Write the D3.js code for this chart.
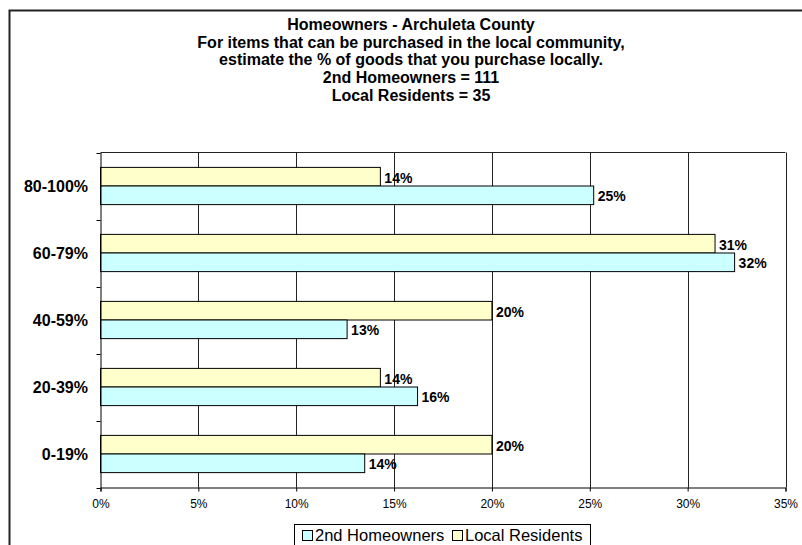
<!DOCTYPE html>
<html>
<head>
<meta charset="utf-8">
<script src="https://cdn.jsdelivr.net/npm/d3@7"></script>
<style>
  html, body { margin: 0; padding: 0; background: #fff; }
  svg { display: block; font-family: "Liberation Sans", Arial, sans-serif; }
</style>
</head>
<body>
<svg id="chart" width="802" height="545"></svg>
<script>
const titleLines = [
  "Homeowners - Archuleta County",
  "For items that can be purchased in the local community,",
  "estimate the % of goods that you purchase locally.",
  "2nd Homeowners = 111",
  "Local Residents = 35"
];
const categories = ["80-100%", "60-79%", "40-59%", "20-39%", "0-19%"];
const seriesNames = ["Local Residents", "2nd Homeowners"];
const localResidents = [14.3, 31.4, 20.0, 14.3, 20.0];
const secondHomeowners = [25.2, 32.4, 12.6, 16.2, 13.5];
const xTicks = [0, 5, 10, 15, 20, 25, 30, 35];
const legendLabels = ["2nd Homeowners", "Local Residents"];
const colors = { "Local Residents": "#FFFFCC", "2nd Homeowners": "#CCFFFF" };

(function () {
const svg = d3.select("#chart");

// outer chart border
svg.append("rect")
  .attr("x", 9.5).attr("y", 10.5)
  .attr("width", 820).attr("height", 560)
  .attr("fill", "none").attr("stroke", "#222").attr("stroke-width", 2);

// title
const title = svg.append("text")
  .attr("text-anchor", "middle")
  .attr("font-weight", "bold")
  .attr("font-size", "16px")
  .attr("fill", "#000");
titleLines.forEach((t, i) => {
  title.append("tspan").attr("x", 411).attr("y", 30 + i * 17.7).text(t);
});

const pL = 100.5, pR = 785.5, pT = 152.5, pB = 487.5;

const x = d3.scaleLinear().domain([0, 35]).range([pL, pR]);
const y = d3.scaleBand().domain(categories).range([pT, pB]);
const inner = d3.scaleBand().domain(seriesNames)
  .range([0, y.bandwidth()]).paddingOuter(0.8).paddingInner(0);

// gridlines
svg.append("g").selectAll("line").data(xTicks.slice(1)).join("line")
  .attr("x1", d => Math.round(x(d)) + 0.5).attr("x2", d => Math.round(x(d)) + 0.5)
  .attr("y1", pT).attr("y2", pB)
  .attr("stroke", "#222").attr("stroke-width", 1);

// plot top border
svg.append("line")
  .attr("x1", pL).attr("x2", pR).attr("y1", pT).attr("y2", pT)
  .attr("stroke", "#222");

// bars
const rows = categories.map((c, i) => ({
  cat: c,
  vals: [
    { s: "Local Residents", v: localResidents[i] },
    { s: "2nd Homeowners", v: secondHomeowners[i] }
  ]
}));

const g = svg.append("g");
rows.forEach(r => {
  r.vals.forEach(d => {
    const by = y(r.cat) + inner(d.s);
    g.append("rect")
      .attr("x", x(0)).attr("y", by)
      .attr("width", x(d.v) - x(0)).attr("height", inner.bandwidth())
      .attr("fill", colors[d.s]).attr("stroke", "#000").attr("stroke-width", 1);
    g.append("text")
      .attr("x", x(d.v) + 4).attr("y", by + inner.bandwidth() / 2 + 6)
      .attr("font-size", "14px").attr("font-weight", "bold")
      .text(Math.round(d.v) + "%");
  });
});

// x axis
const xAxis = d3.axisBottom(x).tickValues(xTicks).tickFormat(d => d + "%").tickSize(4).tickPadding(8);
const gx = svg.append("g").attr("transform", `translate(0,${pB})`).call(xAxis);
gx.select(".domain").attr("stroke", "#000");
gx.selectAll(".tick line").attr("stroke", "#000");
gx.selectAll("text").attr("font-size", "12px").attr("font-family", "Liberation Sans, Arial, sans-serif").attr("fill", "#000");

// y axis
const yAxis = d3.axisLeft(y).tickValues([]).tickSizeOuter(0);
const gy = svg.append("g").attr("transform", `translate(${pL},0)`).call(yAxis);
gy.select(".domain").attr("stroke", "#000");
const bounds = categories.map(c => y(c)).concat([pB]);
svg.append("g").selectAll("line").data(bounds).join("line")
  .attr("x1", pL - 4).attr("x2", pL).attr("y1", d => Math.round(d) + 0.5).attr("y2", d => Math.round(d) + 0.5)
  .attr("stroke", "#000");
svg.append("g").selectAll("text").data(categories).join("text")
  .attr("x", 88).attr("y", d => y(d) + y.bandwidth() / 2 + 6)
  .attr("text-anchor", "end").attr("font-size", "16px").attr("font-weight", "bold")
  .text(d => d);

// legend
const boxX = 294.5, boxW = 296;
const lg = svg.append("g");
lg.append("rect").attr("x", boxX).attr("y", 524.5).attr("width", boxW).attr("height", 30)
  .attr("fill", "#fff").attr("stroke", "#000");
const items = legendLabels.map((name) => {
  const it = lg.append("g");
  it.append("rect").attr("x", 0.5).attr("y", 530.5).attr("width", 10).attr("height", 10)
    .attr("fill", colors[name]).attr("stroke", "#000");
  const t = it.append("text").attr("x", 13).attr("y", 541)
    .attr("font-size", "16.5px").text(name);
  return { it, w: 13 + t.node().getComputedTextLength() };
});
const used = d3.sum(items, d => d.w);
const gap = (boxW - used) / 3;
let cx = boxX + gap;
items.forEach(d => {
  d.it.attr("transform", `translate(${Math.round(cx)},0)`);
  cx += d.w + gap;
});
})();
</script>
</body>
</html>
